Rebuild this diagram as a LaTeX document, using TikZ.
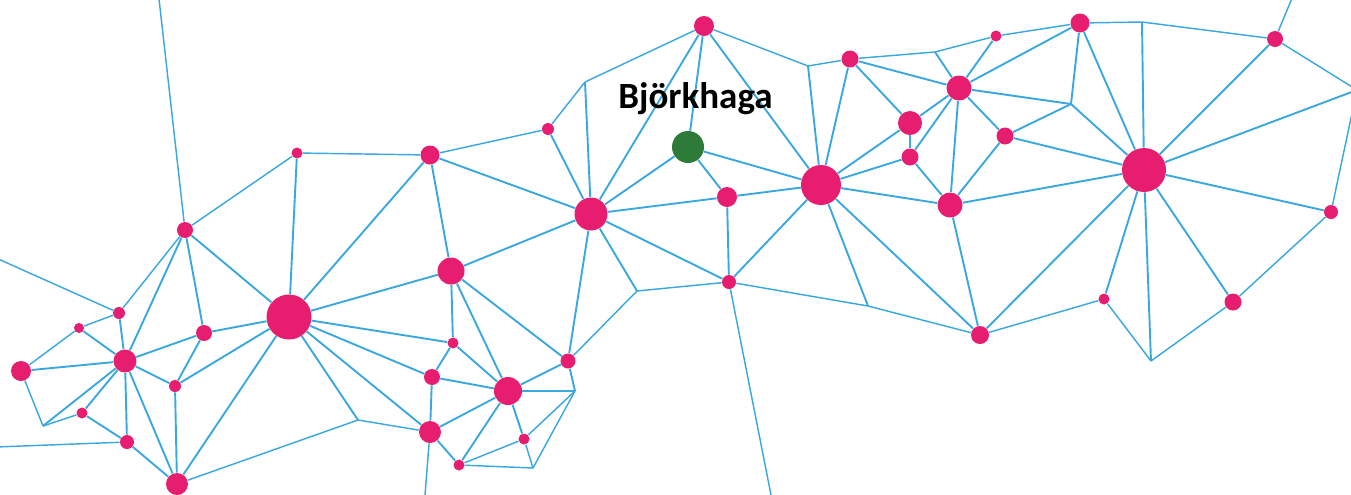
\documentclass[tikz,border=0pt]{standalone}
\usepackage{fontspec}
\newfontfamily\labelfont{Carlito}
\definecolor{pinkdot}{HTML}{E71E6F}
\definecolor{bluelink}{HTML}{3AA8DE}
\definecolor{greendot}{HTML}{2E7A38}
\begin{document}
\begin{tikzpicture}[x=0.5pt,y=-0.5pt,
  dot/.style={circle,fill=pinkdot,draw=none,inner sep=0pt,minimum size=#1pt},
  gdot/.style={circle,fill=greendot,draw=none,inner sep=0pt,minimum size=#1pt},
  edge/.style={draw=bluelink,line width=0.95pt},
  thin/.style={draw=bluelink,line width=0.72pt},
  lbl/.style={font=\labelfont\bfseries\fontsize{18.5}{20}\selectfont,text=black,inner sep=0pt,anchor=base}]
\useasboundingbox (0,0) rectangle (1351,494);
\clip (0,0) rectangle (1351,494);
% nodes
\node[dot=10] (n1) at (704,26) {};
\node[dot=6] (n2) at (548,129) {};
\node[dot=16.5] (n3) at (591,214) {};
\node[gdot=16] (G) at (688,147) {};
\node[dot=10] (n4) at (727,197) {};
\node[dot=20] (n5) at (821,185) {};
\node[dot=7] (n6) at (729,282) {};
\node[dot=8.5] (n7) at (850,59) {};
\node[dot=12.5] (n8) at (959,88) {};
\node[dot=12] (n9) at (910,123) {};
\node[dot=8.5] (n10) at (910,157) {};
\node[dot=5.5] (n11) at (996,36) {};
\node[dot=9.5] (n12) at (1080,23) {};
\node[dot=8.5] (n13) at (1005,136) {};
\node[dot=12.5] (n14) at (950,205) {};
\node[dot=22] (n15) at (1144,170) {};
\node[dot=9] (n16) at (980,335) {};
\node[dot=5.5] (n17) at (1104,299) {};
\node[dot=8] (n18) at (1275,39) {};
\node[dot=7] (n19) at (1331,212) {};
\node[dot=8.5] (n20) at (1233,302) {};
\node[dot=8] (n21) at (185,230) {};
\node[dot=6] (n22) at (119,313) {};
\node[dot=5] (n23) at (79,328) {};
\node[dot=11.5] (n24) at (125,361) {};
\node[dot=10] (n25) at (21,371) {};
\node[dot=8] (n26) at (204,333) {};
\node[dot=6] (n27) at (175,386) {};
\node[dot=5.5] (n28) at (82,413) {};
\node[dot=7] (n29) at (127,442) {};
\node[dot=11] (n30) at (177,484) {};
\node[dot=22.5] (n31) at (289,317) {};
\node[dot=5.5] (n32) at (297,153) {};
\node[dot=9.5] (n33) at (430,155) {};
\node[dot=13.5] (n34) at (451,271) {};
\node[dot=5.5] (n35) at (453,343) {};
\node[dot=8] (n36) at (432,377) {};
\node[dot=14] (n37) at (508,391) {};
\node[dot=7.5] (n38) at (568,361) {};
\node[dot=11] (n39) at (430,432) {};
\node[dot=5.5] (n40) at (524,439) {};
\node[dot=5.5] (n41) at (459,465) {};
% junctions
\coordinate (j1) at (43,426);
\coordinate (j2) at (358,420);
\coordinate (j3) at (575,391);
\coordinate (j4) at (533,468);
\coordinate (j5) at (637,291);
\coordinate (j6) at (585,82);
\coordinate (j7) at (808,66);
\coordinate (j8) at (935,52);
\coordinate (j9) at (1071,104);
\coordinate (j10) at (1142,22);
\coordinate (j11) at (868,306);
\coordinate (j12) at (1151,361);
\coordinate (jR) at (1357,90);
\coordinate (o1) at (158.8,-3);
\coordinate (o2) at (-4,258);
\coordinate (o3) at (-4,447);
\coordinate (o4) at (424.6,500);
\coordinate (o5) at (772,500);
\coordinate (o6) at (1292.5,-3);
% main edges
\foreach \a/\b in {n21/n31,n21/n26,n21/n24,n22/n24,n23/n24,n25/n24,n24/j1,n24/n28,n24/n29,n24/n30,n24/n26,n24/n27,
  n28/n29,n29/n30,n26/n27,n26/n31,n27/n31,n27/n30,n31/n30,n31/j2,n31/n32,n31/n33,n31/n34,n31/n35,n31/n36,n31/n39,
  n33/n3,n33/n34,n2/n3,n3/j6,n3/n34,n3/n38,n3/n1,n3/G,n3/n4,n3/n6,n3/j5,
  n34/n35,n34/n37,n34/n38,n35/n36,n35/n37,n36/n37,n36/n39,n37/n38,n37/j3,n37/n39,n37/n41,n37/n40,n38/j3,n39/n41,
  n1/G,n1/n5,G/n5,G/n4,n4/n5,n4/n6,n6/n5,j11/n5,j7/n5,n5/n7,n5/n9,n5/n10,n5/n14,n5/n16,
  n7/n8,n7/n9,n8/n12,n8/n9,n8/n10,n8/n14,n8/n13,n8/j9,n9/n10,n10/n14,n13/n14,n13/j9,n13/n15,
  n12/j9,n12/n15,j9/n15,j10/n15,n14/n15,n14/n16,n15/n16,n15/n17,n15/j12,n15/n20,n15/n19,n15/n18,n15/jR,n11/n8,j8/n8}
  \draw[edge] (\a) -- (\b);
% thin edges
\foreach \a/\b in {n21/o1,n21/n32,n21/n22,n22/o2,n22/n23,n23/n25,n25/j1,j1/n28,n29/o3,n30/j2,
  n32/n33,n33/n2,n2/j6,n39/j2,n39/o4,n41/n40,n41/j4,n40/j3,n40/j4,j3/j4,n38/j5,j5/n6,
  n1/j6,n1/j7,j7/n7,n7/j8,j8/n11,n11/n12,n12/j10,j10/n18,n18/jR,n18/o6,n19/jR,n19/n20,n20/j12,n17/j12,n17/n16,
  n6/j11,j11/n16,n6/o5}
  \draw[thin] (\a) -- (\b);
% label
\node[lbl] (name) at (695.5,108) {Björkhaga};
\end{tikzpicture}
\end{document}
